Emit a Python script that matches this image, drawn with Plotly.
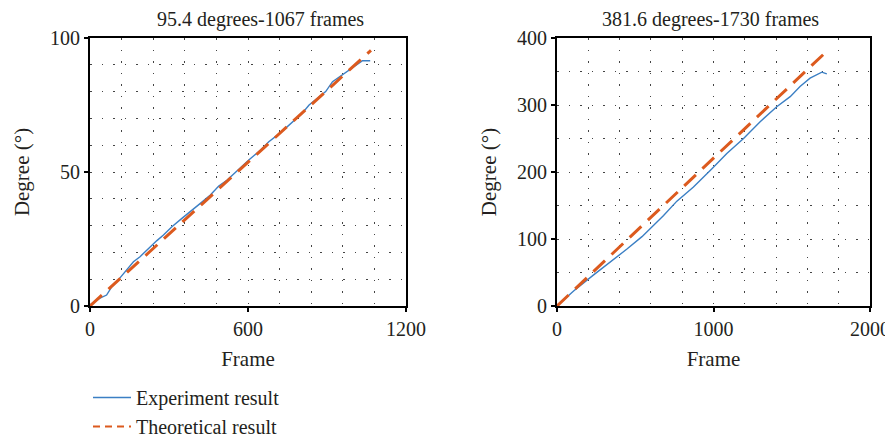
import plotly.graph_objects as go

# ---- data ----
left_title = "95.4 degrees-1067 frames"
right_title = "381.6 degrees-1730 frames"

left_exp_frames = [0, 38, 63, 83, 102, 133, 165, 190, 222, 254, 279, 311, 349, 387, 419, 457,
                   489, 521, 559, 603, 648, 679, 724, 762, 806, 832, 863, 895, 921, 952, 984,
                   1010, 1035, 1064]
left_exp_deg = [0.4, 2.9, 4.1, 7.2, 9.1, 12.8, 16.5, 18.4, 21.5, 24.4, 26.5, 29.6, 32.7, 35.6,
                38.3, 41.4, 44.8, 47.0, 50.5, 54.5, 58.2, 61.3, 64.7, 68.2, 71.9, 75.0, 77.5,
                80.0, 83.7, 85.8, 88.3, 89.9, 91.5, 91.5]
left_theo_frames = [0, 1067]
left_theo_deg = [0, 95.4]

right_exp_frames = [0, 106, 234, 340, 447, 543, 606, 681, 766, 872, 990, 1085, 1192, 1234, 1298,
                    1404, 1490, 1553, 1617, 1692, 1724]
right_exp_deg = [0, 22.5, 46.5, 65, 85, 103.5, 117.5, 135, 156.5, 177.5, 205, 227.5, 250, 260,
                 275, 297.5, 312.5, 327.5, 340, 349, 346.5]
right_theo_frames = [0, 1730]
right_theo_deg = [0, 381.6]

left_xticks = [0, 600, 1200]
left_yticks = [0, 50, 100]
right_xticks = [0, 1000, 2000]
right_yticks = [0, 100, 200, 300, 400]

# ---- style / geometry ----
OFF = 8                      # default page body margin
W, H = 885, 447              # paper size (page body is offset by OFF)


def px(tx):
    return (tx - OFF) / W


def py(ty):
    return 1 - (ty - OFF) / H


FONT = "Liberation Serif"
TXT = "#231f20"
BLUE = "#3b7fc4"
ORANGE = "#dc5a1e"
GRIDC = "#444444"
GRIDDASH = "1.5px,10px"
FS_TICK = 20
FS = 21

fig = go.Figure()

fig.add_trace(go.Scatter(x=left_exp_frames, y=left_exp_deg, mode="lines",
                         line=dict(color=BLUE, width=1.4), showlegend=False,
                         xaxis="x", yaxis="y"))
fig.add_trace(go.Scatter(x=left_theo_frames, y=left_theo_deg, mode="lines",
                         line=dict(color=ORANGE, width=3, dash="16px,9px"), showlegend=False,
                         xaxis="x", yaxis="y"))
fig.add_trace(go.Scatter(x=right_exp_frames, y=right_exp_deg, mode="lines",
                         line=dict(color=BLUE, width=1.4), showlegend=False,
                         xaxis="x2", yaxis="y2"))
fig.add_trace(go.Scatter(x=right_theo_frames, y=right_theo_deg, mode="lines",
                         line=dict(color=ORANGE, width=3, dash="16px,9px"), showlegend=False,
                         xaxis="x2", yaxis="y2"))
# legend entries
fig.add_trace(go.Scatter(x=[None], y=[None], mode="lines", name="Experiment result",
                         line=dict(color=BLUE, width=1.4), xaxis="x", yaxis="y"))
fig.add_trace(go.Scatter(x=[None], y=[None], mode="lines", name="Theoretical result",
                         line=dict(color=ORANGE, width=2.2, dash="7px,5px"), xaxis="x", yaxis="y"))


def common(domain, rng, ticks, grid_dt, anchor):
    return dict(domain=domain, range=rng, anchor=anchor, automargin=False,
                tickmode="linear", tick0=0,
                dtick=ticks[1] - ticks[0], showline=True, linecolor="black", linewidth=2,
                mirror=True, ticks="outside", ticklen=4, tickwidth=2, tickcolor="black",
                showgrid=True, gridcolor=GRIDC, gridwidth=1, griddash=GRIDDASH,
                minor=dict(dtick=grid_dt, showgrid=True, gridcolor=GRIDC, gridwidth=1,
                           griddash=GRIDDASH),
                zeroline=False, tickfont=dict(family=FONT, size=FS_TICK, color=TXT))


def xax(domain, rng, ticks, grid_dt, anchor):
    d = common(domain, rng, ticks, grid_dt, anchor)
    d["title"] = dict(text="Frame", font=dict(family=FONT, size=FS, color=TXT), standoff=12)
    return d


def yax(domain, rng, ticks, grid_dt, anchor):
    d = common(domain, rng, ticks, grid_dt, anchor)
    d["title"] = dict(text="Degree (°)", font=dict(family=FONT, size=FS, color=TXT), standoff=15)
    return d


fig.update_layout(
    width=W, height=H,
    margin=dict(l=0, r=0, t=0, b=0, pad=0),
    paper_bgcolor="white", plot_bgcolor="white",
    xaxis=xax([px(90), px(406)], [0, 1200], left_xticks, 120, "y"),
    yaxis=yax([py(306), py(38)], [0, 100], left_yticks, 10, "x"),
    xaxis2=xax([px(557), px(870)], [0, 2000], right_xticks, 200, "y2"),
    yaxis2=yax([py(306), py(38)], [0, 400], right_yticks, 50, "x2"),
    showlegend=True,
    legend=dict(x=px(88), y=py(378), xanchor="left", yanchor="top",
                font=dict(family=FONT, size=20, color=TXT), bgcolor="rgba(0,0,0,0)",
                tracegroupgap=0, itemwidth=38),
    annotations=[
        dict(text=left_title, x=px(260), y=py(19.5), xref="paper", yref="paper",
             showarrow=False, xanchor="center", yanchor="middle",
             font=dict(family=FONT, size=20, color=TXT)),
        dict(text=right_title, x=px(710), y=py(19.5), xref="paper", yref="paper",
             showarrow=False, xanchor="center", yanchor="middle",
             font=dict(family=FONT, size=20, color=TXT)),
    ],
)

fig.write_html("out.html")
